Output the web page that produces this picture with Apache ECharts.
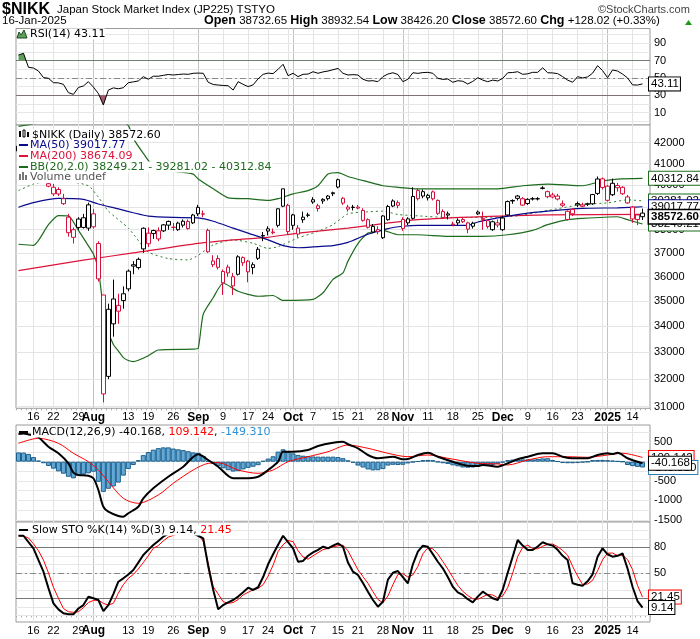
<!DOCTYPE html>
<html><head><meta charset="utf-8">
<script src="https://cdn.jsdelivr.net/npm/echarts@6/dist/echarts.min.js"></script>
<style>html,body{margin:0;padding:0;background:#fff}#c{width:700px;height:639px}</style>
</head><body><div id="c"></div>
<script>
// ---------- DATA ----------
const dates = ['2024-07-10','2024-07-11','2024-07-12','2024-07-16','2024-07-17','2024-07-18','2024-07-19','2024-07-22','2024-07-23','2024-07-24','2024-07-25','2024-07-26','2024-07-29','2024-07-30','2024-07-31',
'2024-08-01','2024-08-02','2024-08-05','2024-08-06','2024-08-07','2024-08-08','2024-08-09','2024-08-13','2024-08-14','2024-08-15','2024-08-16','2024-08-19','2024-08-20','2024-08-21','2024-08-22','2024-08-23','2024-08-26','2024-08-27','2024-08-28','2024-08-29','2024-08-30',
'2024-09-02','2024-09-03','2024-09-04','2024-09-05','2024-09-06','2024-09-09','2024-09-10','2024-09-11','2024-09-12','2024-09-13','2024-09-17','2024-09-18','2024-09-19','2024-09-20','2024-09-24','2024-09-25','2024-09-26','2024-09-27','2024-09-30',
'2024-10-01','2024-10-02','2024-10-03','2024-10-04','2024-10-07','2024-10-08','2024-10-09','2024-10-10','2024-10-11','2024-10-15','2024-10-16','2024-10-17','2024-10-18','2024-10-21','2024-10-22','2024-10-23','2024-10-24','2024-10-25','2024-10-28','2024-10-29','2024-10-30','2024-10-31',
'2024-11-01','2024-11-05','2024-11-06','2024-11-07','2024-11-08','2024-11-11','2024-11-12','2024-11-13','2024-11-14','2024-11-15','2024-11-18','2024-11-19','2024-11-20','2024-11-21','2024-11-22','2024-11-25','2024-11-26','2024-11-27','2024-11-28','2024-11-29',
'2024-12-02','2024-12-03','2024-12-04','2024-12-05','2024-12-06','2024-12-09','2024-12-10','2024-12-11','2024-12-12','2024-12-13','2024-12-16','2024-12-17','2024-12-18','2024-12-19','2024-12-20','2024-12-23','2024-12-24','2024-12-25','2024-12-26','2024-12-27','2024-12-30',
'2025-01-06','2025-01-07','2025-01-08','2025-01-09','2025-01-10','2025-01-14','2025-01-15','2025-01-16'];

const opens = [41600,41900,41500,41300,41200,40700,39950,39900,39800,39380,38550,38000,38100,38100,38070,
38700,37400,35250,32100,34100,34600,35300,35500,36500,36380,37170,37850,37830,37600,37950,38200,38100,38000,38200,38050,38300,
38990,38700,37970,36500,36760,35750,36400,36000,36100,36800,36650,36500,36770,37750,38040,37900,38190,39040,39080,
38190,38070,38440,38650,39230,39060,39350,39500,39650,40250,39400,39000,39000,39000,38850,38440,37900,38000,37650,38440,39050,39200,
38450,38300,38500,39750,39700,39420,39690,39300,38800,38700,38250,38300,38450,38300,38150,38700,38500,38400,38000,38300,
38000,38650,39300,39500,39380,39350,39380,39380,39870,39700,39550,39500,39150,38450,38900,39100,39100,39150,39150,39620,40290,
39950,39560,39880,39900,39460,39000,38650,38732.65];
const highs = [41900,42426,41600,41500,41300,40800,40300,40050,39900,39600,38700,38100,38550,38700,39200,
38900,37500,35250,34900,35880,35300,35600,36300,36650,36800,38100,38100,38000,38100,38250,38400,38300,38350,38450,38450,38700,
39100,38850,38050,36900,36900,36300,36500,36150,36900,36850,36700,36600,37250,37900,38150,38050,38950,39830,39150,
38700,38200,38800,38750,39450,39150,39400,39550,39700,40300,39450,39100,39100,39100,38950,38500,38250,38150,38650,39100,39350,39300,
38550,38550,39900,39850,39800,39600,39750,39350,38900,38800,38350,38500,38550,38350,38350,38850,38800,38450,38400,38450,
38600,39300,39350,39550,39450,39400,39450,39450,39950,39750,39650,39600,39300,38850,38950,39250,39200,39200,39600,40400,40350,
40000,40300,40100,39950,39550,39050,38700,38932.54];
const lows = [41450,41850,40900,41100,40900,40100,39900,39500,39500,39100,37700,37400,38000,38050,37950,
38050,35800,31156,32000,33600,34100,34700,35400,36100,36300,37000,37250,37600,37500,37900,38000,37950,37950,38100,38000,38250,
38600,38550,37000,36400,36300,35250,36000,35250,36050,36450,35770,36100,36700,37500,37750,37800,38100,39000,37800,
38000,37650,38300,38550,39150,38800,39150,39300,39500,39850,39100,38800,38850,38900,38350,38050,37850,37800,37600,38400,39000,38950,
37950,38200,38450,39300,39400,39300,39300,38650,38500,38450,38150,38200,38300,37850,38050,38650,38000,38050,37950,38100,
37950,38600,39150,39300,39050,39100,39300,39300,39800,39400,39400,39300,39000,38400,38600,39000,39000,39050,39100,39550,39800,
39250,39500,39700,39550,39150,38300,38200,38426.20];
const closes = [41832,42224,41191,41275,41098,40126,40064,39599,39594,39155,37870,37667,38469,38526,39102,
38126,35910,31458,34675,35090,34831,35025,36233,36442,36727,38063,37389,37964,37952,38211,38364,38110,38289,38372,38363,38648,
38701,38686,37048,36657,36391,36216,36159,35620,36833,36582,36203,36380,37155,37724,37941,37870,38926,39830,37920,
38652,37809,38552,38636,39333,38938,39278,39381,39606,39911,39180,38911,38982,38955,38412,38105,38143,37914,38606,39028,39277,39081,
38054,38475,39481,39381,39500,39533,39376,38722,38536,38643,38221,38414,38352,38026,38284,38780,38442,38135,38349,38208,
38513,39249,39276,39396,39091,39161,39368,39372,39849,39470,39457,39365,39082,38814,38702,39161,39037,39130,39568,40281,39895,
39307,40083,39981,39605,39190,38474,38445,38572.60];
const prevCloseBefore = 41580;

const rsi14 = [76.5,78.5,62.3,61.5,58,50.5,49.6,44.5,44.3,42.6,33,31,39,40.7,45.7,39.5,32,18.7,36,38.5,
37.5,38.7,44.5,45.5,46.5,51.5,48.5,52,52,53,54,53.4,54,54.5,54.2,55.4,55.6,55.4,45,42.5,
41.8,41.3,41,36,45.7,42.6,40,42,49,54.2,55.6,55,60,65.8,52.6,55.4,51.5,54.2,54.5,57.2,
55.4,57,58,59.5,61,55.4,53.4,53.8,53.4,48.5,46.5,46.8,45.7,51.5,54.5,56,54,45.7,48.5,56,
55.3,56.2,56.5,55.4,49.6,48.3,48.8,45,46.8,46.2,43,46,50.3,47.5,45.7,47.5,46.5,49.5,56,56.3,
57.2,54.2,54.8,56.5,56.5,61.8,56,55.8,55,51.5,47.5,45,51.5,50,51.2,55.5,64.2,58.5,50.3,59.2,
58,54.5,50,42,41.8,43.11];

const stoK = [93.6,93.6,86,78.8,65,51.3,32,14.1,7,2.4,1.2,1.2,8,12,21.9,20,18,5,12,25,
39.5,43.5,48,53.3,62,71,77,82.7,87.4,92.5,96,97,98,98,97,96,93.6,90.6,58,30,
7,12,15.3,18,22,27,32.5,29.8,33,45,60,71.8,83,93.6,86,78.8,63,64,70,74,
77,80.7,78.8,82,84.7,80.7,62,51.3,47.4,38,27.8,18,10.1,16,42,50,52.1,45,37.6,60,
75,81.9,80.7,72,63,55.3,45,33.6,27,23.9,19,15.3,22,27.8,23.9,20,18,30,50,69,
88.6,82,76.8,76.8,81,85.9,83.5,82,77,70,65,37.6,36,34.8,40,48.2,69,78.8,71.8,69,
70,72.9,55,33.6,16.8,9.14];
const stoD = [93.6,93,91,84,76,65,50,33,20,8,4.2,3.5,4.2,9,15,17.5,18,14,12.1,14.1,
26,36,43.5,48,54.5,62,70,78.8,82,87.5,92,94,96,97.5,97.5,97,95.5,87,61,33.6,
25,16,14.1,15,18.5,24,27,30,31.7,36,46,59,75,83,88,86.6,76,68.6,66,70,
73.7,77.2,78.8,80.5,81.8,82.5,75.8,64.7,53.6,45.6,37.7,27.9,18.6,14.7,22.7,36,48,49,45,47.5,
57.5,72.3,79.2,78.2,72,63.4,54.4,44.6,35.2,28.2,23.3,19.4,18.8,21.7,24.6,23.9,20.6,22.7,32.7,49.7,
69.2,79.9,82.5,78.5,78.2,81.2,83.5,83.8,80.8,76.3,70.7,57.5,46.2,36.1,36.9,41,52.4,65.3,73.1,73.2,
70.3,70.6,65.6,53.8,35.1,21.45];

const macdHist = [240,235,200,120,30,-40,-110,-180,-250,-310,-390,-430,-370,-330,-300,-260,-520,-780,-700,-640,
-540,-360,-190,-85,40,170,250,310,350,370,370,340,320,300,270,240,230,150,20,-60,
-110,-170,-220,-255,-245,-200,-160,-130,-90,20,80,140,260,320,250,215,175,155,145,135,
130,130,130,130,120,90,35,-30,-100,-150,-200,-225,-220,-190,-100,-80,-85,-80,-45,-15,
10,40,45,40,-10,-40,-60,-95,-120,-150,-155,-150,-125,-110,-95,-85,-55,-20,40,55,
60,60,60,60,70,85,90,45,10,-35,-40,-40,-35,-20,-5,40,45,45,40,30,
15,0,-85,-115,-135,-149.31];
// [dayIndex, value] readings
const macdLine = [[0,715],[1,730],[2,705],[3,675],[4,630],[6,388],[8,217],[10,-41],[11,-284],[12,-344],[14,-362],[15,-429],[16,-731],[17,-1163],[18,-1292],[20,-1403],[21,-1421],[22,-1333],[24,-1163],[25,-946],[27,-687],[30,-388],[33,-129],[36,191],[38,44],[40,-129],[43,-429],[45,-429],[48,-388],[50,-214],[52,0],[53,258],[55,258],[58,302],[60,406],[63,491],[65,517],[66,450],[68,346],[70,173],[72,88],[75,129],[77,62],[78,70],[80,173],[82,233],[84,129],[87,0],[90,-103],[92,-111],[93,-85],[96,-129],[98,-41],[100,62],[102,129],[105,217],[107,217],[109,129],[111,88],[114,88],[116,173],[118,217],[119,199],[120,233],[122,88],[125,-40.168]];
const macdSignal = [[0,475],[4,605],[8,475],[11,217],[14,0],[16,-214],[18,-517],[21,-946],[24,-1075],[28,-860],[31,-558],[35,-214],[38,-41],[40,-26],[44,-214],[48,-300],[51,-214],[54,0],[58,129],[62,258],[66,431],[70,346],[74,217],[78,129],[82,173],[86,88],[92,-41],[96,-59],[98,-85],[102,44],[106,129],[110,129],[114,114],[118,173],[121,217],[125,109.142]];
const ma50 = [[0,38993],[3,39200],[8,39390],[13,39350],[16,39140],[20,38920],[23,38750],[26,38600],[31,38540],[36,38520],[39,38370],[43,38070],[46,37850],[50,37560],[53,37310],[56,37220],[60,37270],[63,37310],[66,37450],[70,37800],[74,38050],[77,38150],[80,38190],[90,38190],[92,38340],[96,38520],[101,38700],[106,38820],[113,38940],[120,38970],[125,39017.77]];
const ma200 = [[0,36250],[13,36690],[23,37000],[36,37410],[43,37560],[50,37670],[56,37850],[66,38070],[80,38440],[93,38580],[106,38650],[125,38674.09]];
const bbUpper = [[0,42800],[5,43000],[10,43300],[15,43400],[18,43500],[20,43150],[22,42850],[23,42210],[25,41490],[27,40880],[31,40650],[35,40510],[36,40280],[39,39830],[42,39420],[46,39380],[50,39300],[52,39380],[55,39600],[58,39750],[60,39970],[62,40510],[64,40580],[66,40400],[70,40150],[73,39970],[76,39900],[80,39830],[86,39830],[96,39830],[101,39970],[106,40050],[113,39970],[117,40190],[120,40280],[125,40312.84]];
const bbMid = [[0,39750],[3,40050],[6,40190],[9,40200],[14,39970],[16,39450],[18,38820],[22,38070],[26,37040],[30,36760],[34,36700],[36,36900],[39,37340],[43,37560],[47,37410],[50,37190],[52,37270],[56,37640],[60,37930],[63,38220],[66,38700],[70,38790],[73,38820],[76,38670],[80,38610],[86,38540],[93,38540],[100,38610],[106,38850],[113,39120],[118,39190],[122,39330],[125,39281.02]];
const bbLower = [[0,37370],[3,37320],[6,38220],[8,38620],[10,38610],[12,37970],[14,37300],[15,36950],[16,36300],[17,34700],[18,33800],[19,33300],[20,33050],[21,32800],[22,32690],[23,32650],[24,32700],[26,32870],[28,33090],[35,33120],[36,33160],[37,34480],[39,35140],[41,35740],[44,35400],[48,35200],[51,35230],[53,35030],[59,35070],[61,35340],[63,35890],[65,36160],[66,36650],[68,37400],[70,37850],[73,37970],[76,37780],[80,37780],[86,37710],[93,37710],[98,37780],[103,37970],[106,38220],[110,38440],[113,38500],[120,38570],[122,38440],[125,38249.21]];

const xTickLabels = [['2024-07-16','16'],['2024-07-22','22'],['2024-07-29','29'],['2024-08-01','Aug'],['2024-08-13','13'],['2024-08-19','19'],['2024-08-26','26'],['2024-09-02','Sep'],['2024-09-09','9'],['2024-09-17','17'],['2024-09-24','24'],['2024-10-01','Oct'],['2024-10-07','7'],['2024-10-15','15'],['2024-10-21','21'],['2024-10-28','28'],['2024-11-01','Nov'],['2024-11-11','11'],['2024-11-18','18'],['2024-11-25','25'],['2024-12-02','Dec'],['2024-12-09','9'],['2024-12-16','16'],['2024-12-23','23'],['2025-01-06','2025'],['2025-01-14','14']];
const boldTicks = ['Aug','Sep','Oct','Nov','Dec','2025'];
const monthLines = ['2024-08-01','2024-09-02','2024-10-01','2024-11-01','2024-12-02','2025-01-06'];
const weekLines = ['2024-07-16','2024-07-22','2024-07-29','2024-08-05','2024-08-13','2024-08-19','2024-08-26','2024-09-09','2024-09-17','2024-09-24','2024-09-30','2024-10-07','2024-10-15','2024-10-21','2024-10-28','2024-11-05','2024-11-11','2024-11-18','2024-11-25','2024-12-09','2024-12-16','2024-12-23','2024-12-30','2025-01-14'];
const priceTicks = [31000,32000,33000,34000,35000,36000,37000,38000,39000,40000,41000,42000];
const rsiTicks = [10,30,50,70,90];
const macdTicks = [500,0,-500,-1000,-1500];
const stoTicks = [80,50,20];

// ---------- BUILD ----------
const n = dates.length;
const last = n - 1;
const cats = dates.concat(['']);
const pair = arr => arr.map(p => [dates[p[0]], p[1]]);
const FONT = '"Liberation Sans", Arial, sans-serif';
const NARROW = '"Liberation Sans Narrow", "Liberation Sans", Arial';
const LEG = '"DejaVu Sans", Verdana, sans-serif';
const RED = '#d4113b';

const tickMap = {}; xTickLabels.forEach(t => tickMap[t[0]] = t[1]);

const candles = dates.map((d, i) => {
  const prev = i === 0 ? prevCloseBefore : closes[i - 1];
  const stroke = closes[i] >= prev ? '#000' : RED;
  return { value: [opens[i], closes[i], lows[i], highs[i]],
    itemStyle: { color: '#fff', color0: stroke, borderColor: stroke, borderColor0: stroke, borderWidth: 1 } };
});

function vLines() {
  return weekLines.map(d => ({ xAxis: d, lineStyle: { color: '#e4e4e4', width: 1, type: 'solid' }, label: { show: false } }))
    .concat(monthLines.map(d => ({ xAxis: d, lineStyle: { color: '#c2c2c2', width: 1, type: 'solid' }, label: { show: false } })));
}
function hl(v, color, type, lbl) {
  return { yAxis: v, lineStyle: { color: color, width: 1, type: type || 'solid' },
    label: lbl ? { show: true, formatter: lbl } : { show: false } };
}
function mk(data) {
  return { silent: true, symbol: ['none', 'none'], z: 1, animation: false,
    label: { position: 'end', distance: 4, fontSize: 11, fontFamily: FONT, color: '#000' },
    emphasis: { disabled: true }, data: data };
}
function tags(items) {
  return { symbol: 'rect', symbolSize: [1, 1], silent: true, animation: false,
    itemStyle: { color: 'rgba(0,0,0,0)' },
    label: { show: true, position: 'right', distance: 6, backgroundColor: '#fff', padding: [1, 1, 0, 2],
      fontSize: 11.5, fontFamily: FONT, color: '#000', borderWidth: 1, borderColor: '#000' },
    data: items.map(t => ({ coord: [dates[last], t.v], value: t.v,
      label: { formatter: t.text, borderColor: t.c, fontWeight: t.b ? 'bold' : 'normal', borderWidth: t.bw || 1 } })) };
}

const DASHDOT = [6, 3, 2, 3];
const rsiLines = [];
for (let v = 0; v <= 100; v += 10) rsiLines.push(hl(v, '#e6e6e6', 'solid', rsiTicks.includes(v) ? String(v) : null));
rsiLines.push(hl(70, '#777'), hl(30, '#777'), hl(50, '#888', DASHDOT));
const stoLines = [];
for (let v = 0; v <= 100; v += 10) stoLines.push(hl(v, '#e6e6e6', 'solid', stoTicks.includes(v) ? String(v) : null));
stoLines.push(hl(80, '#777'), hl(20, '#777'), hl(50, '#888', DASHDOT));
const macdLines = [];
for (let v = -1500; v <= 750; v += 250) macdLines.push(hl(v, '#e6e6e6', 'solid', macdTicks.includes(v) ? String(v) : null));
const priceLines = priceTicks.map(v => hl(v, '#e4e4e4', 'solid', String(v)));

const GL = 16, GR = 50;
const frame = { show: true, borderColor: '#9a9a9a', borderWidth: 1, backgroundColor: '#fff' };
const grids = [
  Object.assign({ left: GL, right: GR, top: 28.5, height: 96.5 }, frame),
  { left: GL, right: GR, top: 34.7, height: 25.95, show: false },
  { left: GL, right: GR, top: 95.25, height: 25.95, show: false },
  Object.assign({ left: GL, right: GR, top: 125, height: 283.3 }, frame),
  Object.assign({ left: GL, right: GR, top: 425, height: 97 }, frame),
  Object.assign({ left: GL, right: GR, top: 522, height: 100 }, frame)
];
function xAx(gi, labels) {
  return { type: 'category', gridIndex: gi, data: cats, boundaryGap: true,
    axisLine: { show: false }, axisTick: labels ? { show: true, interval: 0, length: 2, lineStyle: { color: '#aaa' } } : { show: false },
    splitLine: { show: false },
    axisLabel: labels ? {
      show: true, interval: (i, v) => tickMap[v] !== undefined, margin: 3, fontSize: 11, fontFamily: FONT, color: '#000',
      formatter: v => { const t = tickMap[v]; return boldTicks.includes(t) ? '{b|' + t + '}' : t; },
      rich: { b: { fontWeight: 'bold', fontSize: 12, fontFamily: FONT, color: '#000' } }
    } : { show: false } };
}
function yAx(gi, min, max, type) {
  return { type: type || 'value', gridIndex: gi, min: min, max: max, position: 'right', scale: true,
    axisLine: { show: false }, axisTick: { show: false }, axisLabel: { show: false }, splitLine: { show: false } };
}
const pMax = 42000 * Math.exp((142.7 - 125) / 869.3);
const pMin = 42000 * Math.exp(-(408.3 - 142.7) / 869.3);

const option = {
  animation: false,
  backgroundColor: '#fff',
  grid: grids,
  xAxis: [xAx(0, false), xAx(1, false), xAx(2, false), xAx(3, true), xAx(4, false), xAx(5, true)],
  yAxis: [yAx(0, -4.39, 107.17), yAx(1, 70, 100), yAx(2, 0, 30), yAx(3, pMin, pMax, 'log'), yAx(4, -1558, 948), yAx(5, -7.88, 109.76)],
  series: [
    // RSI
    { type: 'line', xAxisIndex: 0, yAxisIndex: 0, data: rsi14, symbol: 'none', z: 3,
      lineStyle: { color: '#000', width: 1 }, markLine: mk(vLines().concat(rsiLines)),
      markPoint: tags([{ v: rsi14[last], text: rsi14[last].toFixed(2), c: '#000' }]) },
    { type: 'line', xAxisIndex: 1, yAxisIndex: 1, data: rsi14, symbol: 'none', z: 2, clip: true,
      lineStyle: { width: 0 }, areaStyle: { color: '#5e9e5e', origin: 'start', opacity: 1 } },
    { type: 'line', xAxisIndex: 2, yAxisIndex: 2, data: rsi14, symbol: 'none', z: 2, clip: true,
      lineStyle: { width: 0 }, areaStyle: { color: '#a3576a', origin: 'end', opacity: 1 } },
    // Price
    { type: 'line', xAxisIndex: 3, yAxisIndex: 3, data: pair(bbMid), symbol: 'none', z: 2, smooth: 0.2,
      lineStyle: { color: '#2e7d2e', width: 1, type: [2, 3] } },
    { type: 'line', xAxisIndex: 3, yAxisIndex: 3, data: pair(bbUpper), symbol: 'none', z: 2, smooth: 0.2,
      lineStyle: { color: '#1d6b1d', width: 1.2 } },
    { type: 'line', xAxisIndex: 3, yAxisIndex: 3, data: pair(bbLower), symbol: 'none', z: 2, smooth: 0.2,
      lineStyle: { color: '#1d6b1d', width: 1.2 } },
    { type: 'line', xAxisIndex: 3, yAxisIndex: 3, data: pair(ma200), symbol: 'none', z: 2, smooth: 0.2,
      lineStyle: { color: '#dc143c', width: 1.2 } },
    { type: 'line', xAxisIndex: 3, yAxisIndex: 3, data: pair(ma50), symbol: 'none', z: 2, smooth: 0.2,
      lineStyle: { color: '#0a0a8c', width: 1.2 } },
    { type: 'candlestick', xAxisIndex: 3, yAxisIndex: 3, data: candles, barWidth: 4, z: 3,
      markLine: mk(vLines().concat(priceLines)),
      markPoint: tags([
        { v: bbMid[bbMid.length - 1][1], text: bbMid[bbMid.length - 1][1].toFixed(2), c: '#1d6b1d' },
        { v: bbUpper[bbUpper.length - 1][1], text: bbUpper[bbUpper.length - 1][1].toFixed(2), c: '#1d6b1d' },
        { v: ma50[ma50.length - 1][1], text: ma50[ma50.length - 1][1].toFixed(2), c: '#0a0a8c' },
        { v: bbLower[bbLower.length - 1][1], text: bbLower[bbLower.length - 1][1].toFixed(2), c: '#1d6b1d' },
        { v: closes[last], text: closes[last].toFixed(2), c: '#000', b: true, bw: 1.5 }
      ]) },
    // MACD
    { type: 'bar', xAxisIndex: 4, yAxisIndex: 4, data: macdHist, barCategoryGap: '0%', z: 2,
      itemStyle: { color: '#62a9d8', borderColor: '#1d5f8a', borderWidth: 1 },
      markLine: mk(vLines().concat(macdLines)) },
    { type: 'line', xAxisIndex: 4, yAxisIndex: 4, data: pair(macdSignal), symbol: 'none', smooth: 0.3, z: 3,
      lineStyle: { color: '#ff0000', width: 1 } },
    { type: 'line', xAxisIndex: 4, yAxisIndex: 4, data: pair(macdLine), symbol: 'none', smooth: 0.3, z: 4,
      lineStyle: { color: '#000', width: 2 },
      markPoint: tags([
        { v: macdSignal[macdSignal.length - 1][1], text: macdSignal[macdSignal.length - 1][1].toFixed(3), c: '#ff0000' },
        { v: macdHist[last], text: macdHist[last].toFixed(3), c: '#2f7fb5' },
        { v: macdLine[macdLine.length - 1][1], text: macdLine[macdLine.length - 1][1].toFixed(3), c: '#000' }
      ]) },
    // STO
    { type: 'line', xAxisIndex: 5, yAxisIndex: 5, data: stoD, symbol: 'none', z: 3,
      lineStyle: { color: '#ff0000', width: 1 }, markLine: mk(vLines().concat(stoLines)) },
    { type: 'line', xAxisIndex: 5, yAxisIndex: 5, data: stoK, symbol: 'none', z: 4,
      lineStyle: { color: '#000', width: 2 },
      markPoint: tags([
        { v: stoD[last], text: stoD[last].toFixed(2), c: '#ff0000' },
        { v: stoK[last], text: stoK[last].toFixed(2), c: '#000' }
      ]) }
  ],
  graphic: [
    // header
    { type: 'text', left: 2, top: 2, z: 20, style: { text: '$NIKK', font: 'bold 16px ' + NARROW, fill: '#000' } },
    { type: 'text', left: 57, top: 4, z: 20, style: { text: 'Japan Stock Market Index (JP225) TSTYO', font: '11.5px ' + NARROW, fill: '#000' } },
    { type: 'text', left: 598, top: 4, z: 20, style: { text: '\u00a9StockCharts.com', font: '11px ' + NARROW, fill: '#444' } },
    { type: 'text', left: 2, top: 15, z: 20, style: { text: '16-Jan-2025', font: '11.5px ' + NARROW, fill: '#000' } },
    { type: 'text', left: 204, top: 14, z: 20, style: {
      text: '{b|Open} 38732.65 {b|High} 38932.54 {b|Low} 38426.20 {b|Close} 38572.60 {b|Chg} +128.02 (+0.33%)',
      font: '11.5px ' + NARROW, fill: '#000',
      rich: { b: { font: 'bold 12.5px ' + NARROW, fill: '#000' } } } },
    { type: 'polygon', z: 20, shape: { points: [[685, 25], [692, 25], [688.5, 20]] }, style: { fill: '#1a9a1a' } },
    // RSI legend
    { type: 'polygon', z: 20, shape: { points: [[17, 38], [19, 32], [21, 35], [24, 30], [27, 38]] }, style: { fill: '#5e9e5e', stroke: '#1d4d1d', lineWidth: 1 } },
    { type: 'text', x: 30, y: 34, z: 20, style: { text: 'RSI(14) 43.11', font: '11px ' + LEG, fill: '#000', verticalAlign: 'middle', backgroundColor: '#fff' } },
    // price legend block (icons column)
    { type: 'rect', z: 19, shape: { x: 17, y: 128, width: 13, height: 56 }, style: { fill: '#fff' } },
    { type: 'rect', z: 20, shape: { x: 19, y: 131, width: 2, height: 6 }, style: { fill: '#000' } },
    { type: 'rect', z: 20, shape: { x: 23, y: 130, width: 2, height: 7 }, style: { fill: '#fff', stroke: '#000', lineWidth: 1 } },
    { type: 'rect', z: 20, shape: { x: 27, y: 132, width: 2, height: 5 }, style: { fill: '#000' } },
    { type: 'text', x: 31, y: 135, z: 20, style: { text: '$NIKK (Daily) 38572.60', font: '11px ' + LEG, fill: '#000', verticalAlign: 'middle', backgroundColor: '#fff', padding: [0, 1] } },
    { type: 'rect', z: 20, shape: { x: 19, y: 144, width: 9, height: 2 }, style: { fill: '#0a0a8c' } },
    { type: 'text', x: 29, y: 145.5, z: 20, style: { text: 'MA(50) 39017.77', font: '11px ' + LEG, fill: '#0a0a8c', verticalAlign: 'middle', backgroundColor: '#fff', padding: [0, 1] } },
    { type: 'rect', z: 20, shape: { x: 19, y: 155, width: 9, height: 2 }, style: { fill: '#dc143c' } },
    { type: 'text', x: 29, y: 156.5, z: 20, style: { text: 'MA(200) 38674.09', font: '11px ' + LEG, fill: '#dc143c', verticalAlign: 'middle', backgroundColor: '#fff', padding: [0, 1] } },
    { type: 'rect', z: 20, shape: { x: 19, y: 166, width: 9, height: 2 }, style: { fill: '#1d6b1d' } },
    { type: 'text', x: 29, y: 167, z: 20, style: { text: 'BB(20,2.0) 38249.21 - 39281.02 - 40312.84', font: '11px ' + LEG, fill: '#1d6b1d', verticalAlign: 'middle', backgroundColor: '#fff', padding: [0, 1] } },
    { type: 'rect', z: 20, shape: { x: 19, y: 174, width: 2, height: 6 }, style: { fill: '#777' } },
    { type: 'rect', z: 20, shape: { x: 22, y: 172, width: 2, height: 8 }, style: { fill: '#777' } },
    { type: 'rect', z: 20, shape: { x: 25, y: 175, width: 2, height: 5 }, style: { fill: '#777' } },
    { type: 'text', x: 29, y: 177.5, z: 20, style: { text: 'Volume undef', font: '11px ' + LEG, fill: '#555', verticalAlign: 'middle', backgroundColor: '#fff', padding: [0, 1] } },
    // MACD legend
    { type: 'rect', z: 20, shape: { x: 19, y: 431, width: 9, height: 2 }, style: { fill: '#000' } },
    { type: 'text', x: 31, y: 432, z: 20, style: {
      text: 'MACD(12,26,9) -40.168, {r|109.142}, {b|-149.310}', font: '11px ' + LEG, fill: '#000', verticalAlign: 'middle', backgroundColor: '#fff', padding: [0, 1],
      rich: { r: { fill: '#ff0000', font: '11px ' + LEG }, b: { fill: '#2f8fd0', font: '11px ' + LEG } } } },
    // STO legend
    { type: 'rect', z: 20, shape: { x: 19, y: 529, width: 9, height: 2 }, style: { fill: '#000' } },
    { type: 'text', x: 31, y: 530, z: 20, style: {
      text: 'Slow STO %K(14) %D(3) 9.14, {r|21.45}', font: '11px ' + LEG, fill: '#000', verticalAlign: 'middle', backgroundColor: '#fff', padding: [0, 1],
      rich: { r: { fill: '#ff0000', font: '11px ' + LEG } } } }
  ]
};
const chart = echarts.init(document.getElementById('c'));
chart.setOption(option);
</script>
</body></html>
